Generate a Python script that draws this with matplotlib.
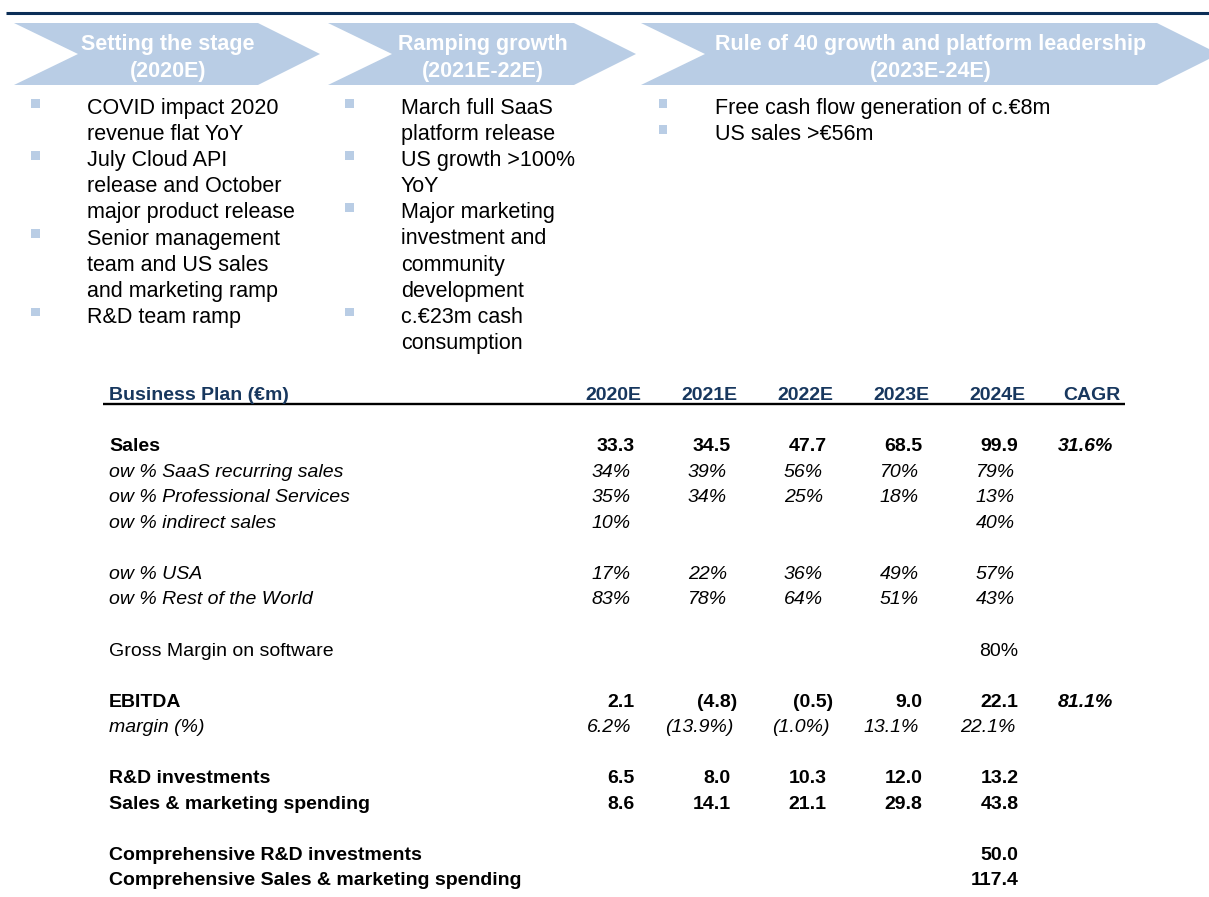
import matplotlib.pyplot as plt
from matplotlib.patches import Polygon, Rectangle

plt.rcParams['font.family'] = ['Liberation Sans', 'DejaVu Sans']

# --- content ---
stage_titles = ['Setting the stage', 'Ramping growth', 'Rule of 40 growth and platform leadership']
stage_years = ['(2020E)', '(2021E-22E)', '(2023E-24E)']

bullets_col1 = [['COVID impact 2020', 'revenue flat YoY'],
                ['July Cloud API', 'release and October', 'major product release'],
                ['Senior management', 'team and US sales', 'and marketing ramp'],
                ['R&D team ramp']]
bullets_col2 = [['March full SaaS', 'platform release'],
                ['US growth >100%', 'YoY'],
                ['Major marketing', 'investment and', 'community', 'development'],
                ['c.€23m cash', 'consumption']]
bullets_col3 = [['Free cash flow generation of c.€8m'],
                ['US sales >€56m']]

years = ['2020E', '2021E', '2022E', '2023E', '2024E']
sales = [33.3, 34.5, 47.7, 68.5, 99.9]
saas_pct = [34, 39, 56, 70, 79]
prof_pct = [35, 34, 25, 18, 13]
indirect_pct = [10, None, None, None, 40]
usa_pct = [17, 22, 36, 49, 57]
rest_pct = [83, 78, 64, 51, 43]
gross_margin = [None, None, None, None, 80]
ebitda = [2.1, -4.8, -0.5, 9.0, 22.1]
ebitda_margin = [6.2, -13.9, -1.0, 13.1, 22.1]
rd_invest = [6.5, 8.0, 10.3, 12.0, 13.2]
sm_spend = [8.6, 14.1, 21.1, 29.8, 43.8]
comp_rd = [None, None, None, None, 50.0]
comp_sm = [None, None, None, None, 117.4]
sales_cagr = 31.6
ebitda_cagr = 81.1

# --- layout (pixel coordinates) ---
W, H = 1209, 897
navy = '#0B2E57'
head_col = '#17375E'
light = '#B9CDE5'

fig = plt.figure(figsize=(W / 100, H / 100), dpi=100)
ax = fig.add_axes([0, 0, 1, 1])
ax.set_xlim(0, W)
ax.set_ylim(H, 0)
ax.axis('off')

ax.plot([6, W], [12.7, 12.7], color=navy, lw=2.2, solid_capstyle='butt')

# chevrons
chev_left = [14, 328, 641]
chev_flat = [258, 574, 1157]
top, bot = 23, 85
mid = (top + bot) / 2
for i in range(3):
    l, f = chev_left[i], chev_flat[i]
    pts = [(l, top), (f, top), (f + 62, mid), (f, bot), (l, bot), (l + 64, mid)]
    ax.add_patch(Polygon(pts, closed=True, facecolor=light, edgecolor='none'))
    cx = (l + 64 + f) / 2
    ax.text(cx, 50, stage_titles[i], ha='center', va='baseline', fontsize=15.5,
            fontweight='bold', color='white')
    ax.text(cx, 76.5, stage_years[i], ha='center', va='baseline', fontsize=15.5,
            fontweight='bold', color='white')

# bullets
bullet_x = [35.5, 349.5, 663]
text_x = [87, 401, 715]
base0, gap = 114, 26.1
for c, col in enumerate([bullets_col1, bullets_col2, bullets_col3]):
    k = 0
    for item in col:
        yb = base0 + gap * k
        ax.add_patch(Rectangle((bullet_x[c] - 4.3, yb - 15), 8.6, 8.6,
                               facecolor=light, edgecolor='none'))
        for line in item:
            ax.text(text_x[c], base0 + gap * k, line, ha='left', va='baseline',
                    fontsize=15.5, color='black')
            k += 1

# table
label_x = 109
col_right = [641, 737, 833, 929, 1025]
cagr_right = 1121
row0, rgap = 400, 25.55
fs = 14

ax.text(label_x, row0, 'Business Plan (€m)', ha='left', va='baseline', fontsize=fs,
        fontweight='bold', color=head_col)
for j, yr in enumerate(years):
    ax.text(col_right[j], row0, yr, ha='right', va='baseline', fontsize=fs,
            fontweight='bold', color=head_col)
ax.text(cagr_right, row0, 'CAGR', ha='right', va='baseline', fontsize=fs,
        fontweight='bold', color=head_col)
ax.plot([103, 1125], [404.5, 404.5], color='black', lw=1.7, solid_capstyle='butt')


def num(v):
    return f'({abs(v):.1f})' if v < 0 else f'{v:.1f}'


def pct1(v):
    return f'({abs(v):.1f}%)' if v < 0 else f'{v:.1f}%'


def pct0(v):
    return f'{v:.0f}%'


rows = [
    (2, 'Sales', sales, num, 'bold', sales_cagr),
    (3, 'ow % SaaS recurring sales', saas_pct, pct0, 'italic', None),
    (4, 'ow % Professional Services', prof_pct, pct0, 'italic', None),
    (5, 'ow % indirect sales', indirect_pct, pct0, 'italic', None),
    (7, 'ow % USA', usa_pct, pct0, 'italic', None),
    (8, 'ow % Rest of the World', rest_pct, pct0, 'italic', None),
    (10, 'Gross Margin on software', gross_margin, pct0, 'regular', None),
    (12, 'EBITDA', ebitda, num, 'bold', ebitda_cagr),
    (13, 'margin (%)', ebitda_margin, pct1, 'italic', None),
    (15, 'R&D investments', rd_invest, num, 'bold', None),
    (16, 'Sales & marketing spending', sm_spend, num, 'bold', None),
    (18, 'Comprehensive R&D investments', comp_rd, num, 'bold', None),
    (19, 'Comprehensive Sales & marketing spending', comp_sm, num, 'bold', None),
]

for r, label, vals, fmt, style, cagr in rows:
    y = row0 + rgap * r
    weight = 'bold' if style == 'bold' else 'normal'
    fstyle = 'italic' if style == 'italic' else 'normal'
    ax.text(label_x, y, label, ha='left', va='baseline', fontsize=fs,
            fontweight=weight, fontstyle=fstyle, color='black')
    for j, v in enumerate(vals):
        if v is None:
            continue
        if style == 'italic':
            off = 3.5 if v < 0 else 10
        else:
            off = 0 if v < 0 else 6.5
        ax.text(col_right[j] - off, y, fmt(v), ha='right', va='baseline', fontsize=fs,
                fontweight=weight, fontstyle=fstyle, color='black')
    if cagr is not None:
        ax.text(cagr_right - 8, y, f'{cagr:.1f}%', ha='right', va='baseline', fontsize=fs,
                fontweight='bold', fontstyle='italic', color='black')

fig.savefig('out.png', dpi=100)
